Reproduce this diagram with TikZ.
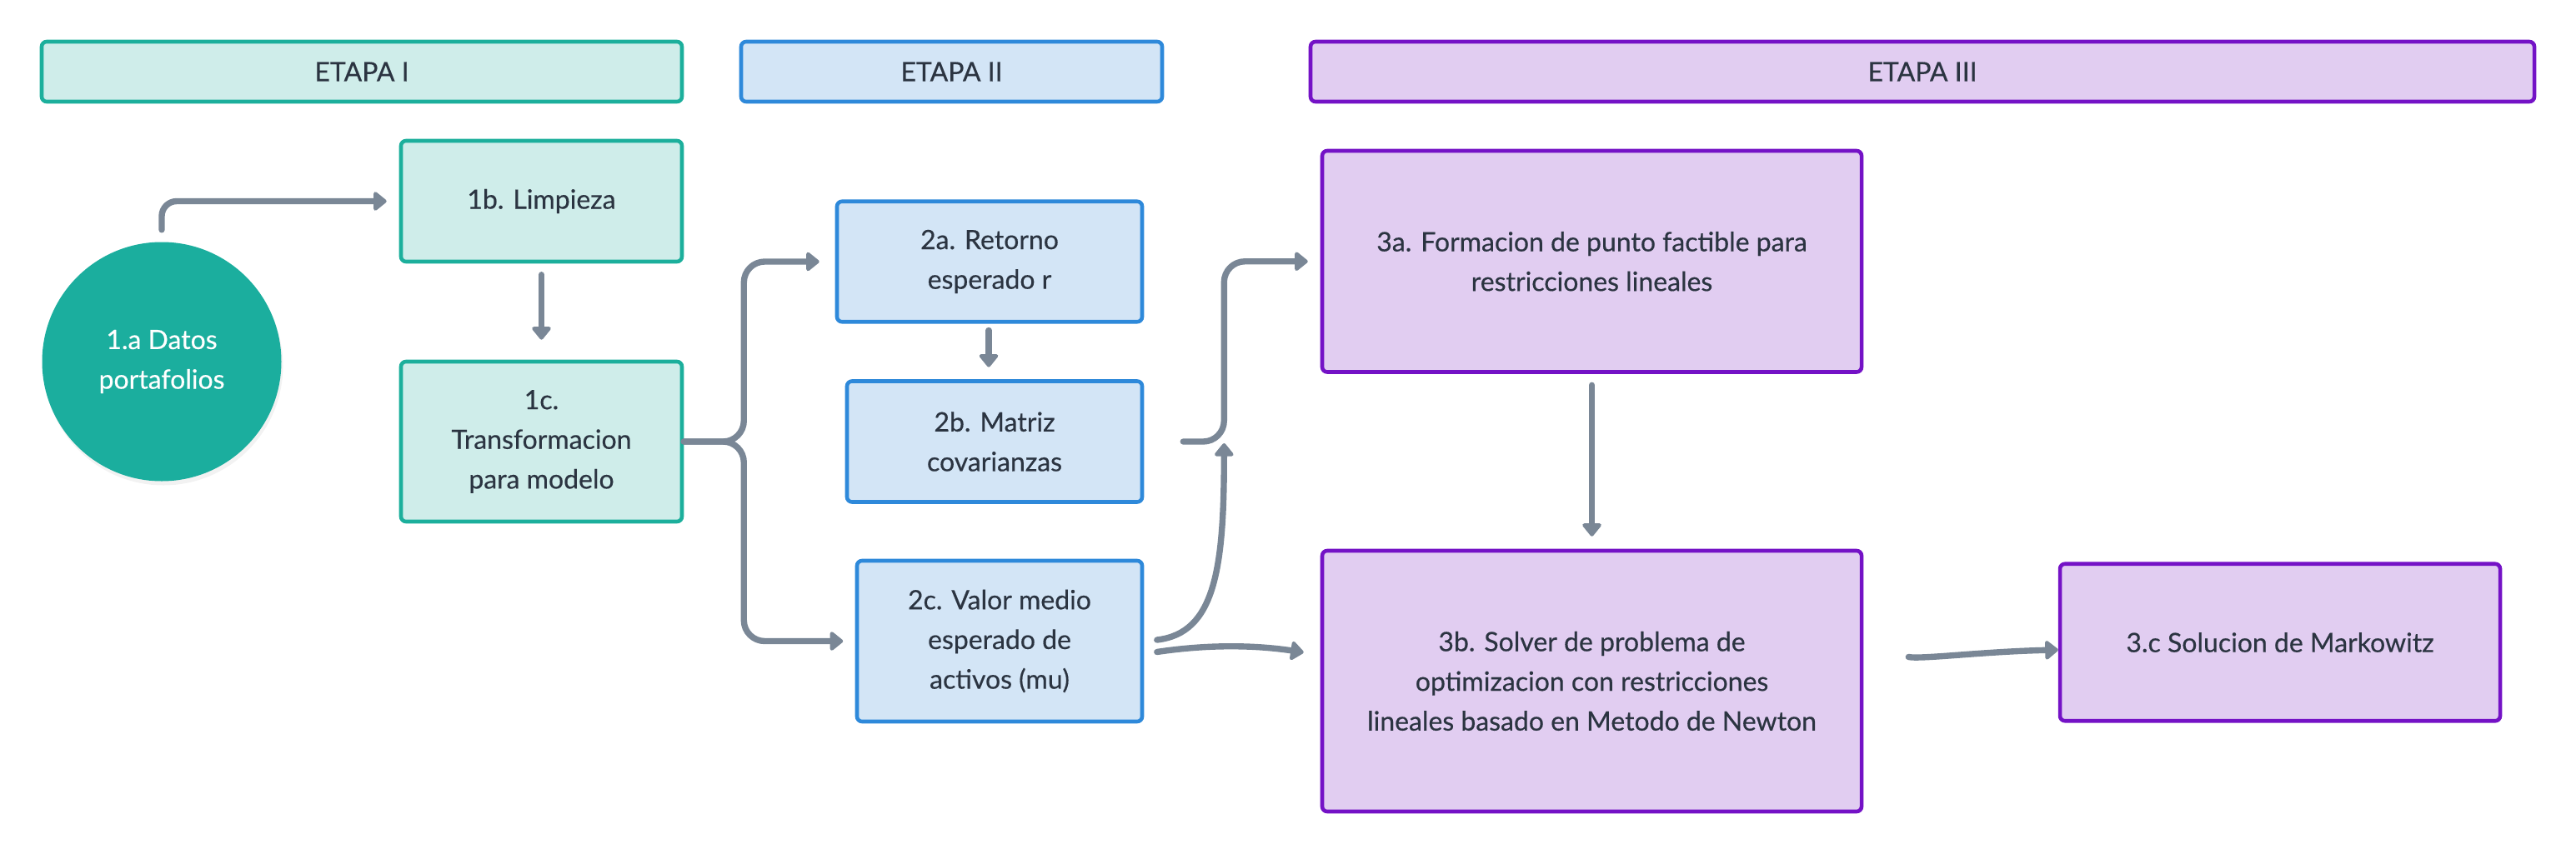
\documentclass[tikz,border=0pt]{standalone}
\usepackage{fontspec}
\setmainfont{Lato}[FakeBold=0.4]
\usetikzlibrary{arrows.meta,calc,shadows}
\definecolor{tealfill}{HTML}{CFEDEA}
\definecolor{tealline}{HTML}{1CAF9C}
\definecolor{tealdark}{HTML}{1BAE9E}
\definecolor{bluefill}{HTML}{D3E5F6}
\definecolor{blueline}{HTML}{2E89DA}
\definecolor{purpfill}{HTML}{E1CDF1}
\definecolor{purpline}{HTML}{7412C6}
\definecolor{arrowgray}{HTML}{7A8796}
\definecolor{textdark}{HTML}{2B3441}
\tikzset{
  box/.style={rectangle, rounded corners=0.06cm, line width=1.3pt, inner sep=0pt,
    align=center, text=textdark, font=\fontsize{9.1pt}{13.55pt}\selectfont},
  tealbox/.style={box, fill=tealfill, draw=tealline},
  bluebox/.style={box, fill=bluefill, draw=blueline},
  purpbox/.style={box, fill=purpfill, draw=purpline},
  arr/.style={draw=arrowgray, line width=2.1pt, line cap=round, line join=round,
    -{Triangle[length=4.8pt,width=7.4pt,round]}},
}
\begin{document}
\begin{tikzpicture}
\useasboundingbox (0,0) rectangle (30.90,10.24);
% headers
\node[tealbox, minimum width=7.68cm, minimum height=0.72cm] (h1) at (4.34,9.38) {ETAPA I};
\node[bluebox, minimum width=5.05cm, minimum height=0.72cm] (h2) at (11.415,9.38) {ETAPA II};
\node[purpbox, minimum width=14.68cm, minimum height=0.72cm] (h3) at (23.06,9.38) {ETAPA III};
% stage I
\node[circle, minimum size=2.87cm, inner sep=0pt, fill=tealdark, text=white, align=center,
  font=\fontsize{9.1pt}{13.55pt}\selectfont,
  drop shadow={opacity=0.10, shadow xshift=0.02cm, shadow yshift=-0.05cm}] (a1) at (1.94,5.90)
  {1.a Datos\\portafolios};
\node[tealbox, minimum width=3.37cm, minimum height=1.45cm] (b1) at (6.495,7.825) {1b. Limpieza};
\node[tealbox, minimum width=3.37cm, minimum height=1.92cm] (c1) at (6.495,4.94) {1c.\\Transformacion\\para modelo};
% stage II
\node[bluebox, minimum width=3.66cm, minimum height=1.445cm] (a2) at (11.87,7.10) {2a. Retorno\\esperado r};
\node[bluebox, minimum width=3.54cm, minimum height=1.45cm] (b2) at (11.93,4.94) {2b. Matriz\\covarianzas};
\node[bluebox, minimum width=3.42cm, minimum height=1.93cm] (c2) at (11.99,2.545) {2c. Valor medio\\esperado de\\activos (mu)};
% stage III
\node[purpbox, minimum width=6.47cm, minimum height=2.655cm] (a3) at (19.095,7.1025) {3a. Formacion de punto factible para\\restricciones lineales};
\node[purpbox, minimum width=6.47cm, minimum height=3.13cm] (b3) at (19.095,2.065) {3b. Solver de problema de\\optimizacion con restricciones\\lineales basado en Metodo de Newton};
\node[purpbox, minimum width=5.28cm, minimum height=1.885cm] (c3) at (27.35,2.53) {3.c Solucion de Markowitz};
% junctions
\coordinate (j1) at ($(c1.east)+(0.72,0)$);
\coordinate (j2) at ($(b2.east)+(0.96,0)$);
% connectors
\draw[arr, rounded corners=0.18cm, shorten <=0.14cm, shorten >=0.15cm] (a1.north) |- (b1.west);
\draw[arr, shorten <=0.135cm, shorten >=0.24cm] (b1.south) -- (c1.north);
\draw[arr, rounded corners=0.25cm, shorten >=0.19cm] (c1.east) -- (j1) |- (a2.west);
\draw[arr, rounded corners=0.25cm, shorten >=0.145cm] (c1.east) -- (j1) |- (c2.west);
\draw[arr, shorten <=0.08cm, shorten >=0.146cm] ([xshift=-0.01cm]a2.south) -- ([xshift=-0.01cm]a2.south |- b2.north);
\draw[arr, rounded corners=0.25cm, shorten <=0.47cm, shorten >=0.15cm] (b2.east) -- (j2) |- (a3.west);
\draw[arr] ($(c2.east)+(0.155,0.015)$) .. controls +(0.70,0.08) and +(0,-1.5) .. ($(j2)+(0,-0.02)$);
\draw[arr] ($(c2.east)+(0.155,-0.13)$) .. controls +(0.6,0.09) and +(-0.6,0.09) .. ($(b3.west)+(-0.2,0.345)$);
\draw[arr, shorten <=0.135cm, shorten >=0.15cm] (a3.south) -- (b3.north);
\draw[arr] ($(b3.east)+(0.54,0.29)$) .. controls +(0.15,-0.03) and +(-0.9,-0.02) .. ($(c3.west)+(0,-0.09)$);
\end{tikzpicture}
\end{document}
